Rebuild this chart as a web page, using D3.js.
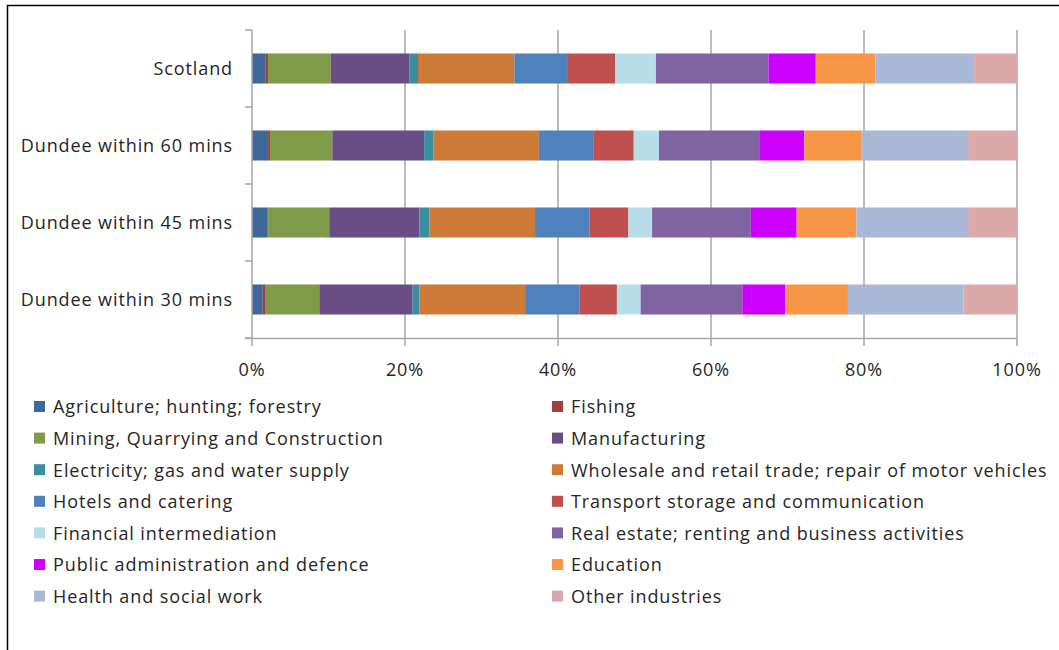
<!DOCTYPE html>
<html><head><meta charset="utf-8">
<script src="https://cdn.jsdelivr.net/npm/d3@7"></script>
<style>body{margin:0;background:#fff}svg{display:block}text{font-family:"Open Sans",sans-serif;fill:#262626;letter-spacing:0.9px}</style>
</head><body>
<svg id="c" width="1059" height="650"></svg>
<script>
const categories = ["Scotland","Dundee within 60 mins","Dundee within 45 mins","Dundee within 30 mins"];
const series = ["Agriculture; hunting; forestry","Fishing","Mining, Quarrying and Construction","Manufacturing","Electricity; gas and water supply","Wholesale and retail trade; repair of motor vehicles","Hotels and catering","Transport storage and communication","Financial intermediation","Real estate; renting and business activities","Public administration and defence","Education","Health and social work","Other industries"];
const colors = ["#3E679A","#A0413D","#7F9A48","#694D85","#3A8EA2","#CD7A37","#4F81BD","#C0504D","#B7DEE8","#8064A2","#CC00FF","#F79646","#A9B8D6","#DBA9A9"];
// values per category, in series order (percent)
const scotland  = [1.8,0.3,8.2,10.3,1.1,12.6,7.0,6.2,5.3,14.7,6.2,7.8,12.9,5.6];
const dundee60  = [2.1,0.25,8.15,12.0,1.2,13.8,7.1,5.3,3.3,13.2,5.8,7.5,13.9,6.4];
const dundee45  = [2.0,0.1,8.0,11.8,1.3,13.8,7.1,5.1,3.1,12.9,6.0,7.8,14.6,6.4];
const dundee30  = [1.4,0.3,7.1,12.2,0.9,13.8,7.1,4.9,3.1,13.3,5.6,8.2,15.1,7.0];
const xTicks = [0,20,40,60,80,100];
const xTickLabels = ["0%","20%","40%","60%","80%","100%"];

const valuesByCat = [scotland,dundee60,dundee45,dundee30];
const rows = categories.map((c,i)=>{const o={cat:c}; series.forEach((s,j)=>o[s]=valuesByCat[i][j]); return o;});

const svg = d3.select("#c");
svg.append("rect").attr("x",7.5).attr("y",5.5).attr("width",1100).attr("height",700).attr("fill","#fff").attr("stroke","#000").attr("stroke-width",1.5);

const x = d3.scaleLinear().domain([0,100]).range([252,1017]);
const p = 0.61;
const y = d3.scaleBand().domain(categories).range([30,338]).paddingInner(p).paddingOuter(p/2);

// gridlines
svg.append("g").selectAll("line").data(xTicks.slice(1)).join("line")
  .attr("x1",d=>x(d)).attr("x2",d=>x(d)).attr("y1",30).attr("y2",338)
  .attr("stroke","#A6A6A6").attr("stroke-width",1.5);

const stack = d3.stack().keys(series)(rows);
svg.append("g").selectAll("g").data(stack).join("g")
  .attr("fill",(d,i)=>colors[i])
  .selectAll("rect").data(d=>d).join("rect")
  .attr("x",d=>x(d[0])).attr("width",d=>x(d[1])-x(d[0]))
  .attr("y",d=>y(d.data.cat)).attr("height",y.bandwidth());

// y axis
const yAxis = svg.append("g");
yAxis.append("line").attr("x1",252).attr("x2",252).attr("y1",30).attr("y2",338).attr("stroke","#A6A6A6").attr("stroke-width",1.5);
const bounds = categories.map(c=>y(c)-y.step()*p/2).concat([y(categories[categories.length-1])+y.bandwidth()+y.step()*p/2]);
yAxis.selectAll("line.t").data(bounds).join("line").attr("class","t")
  .attr("x1",245).attr("x2",252).attr("y1",d=>d).attr("y2",d=>d).attr("stroke","#A6A6A6").attr("stroke-width",1.5);
yAxis.selectAll("text").data(categories).join("text")
  .attr("x",233).attr("y",c=>y(c)+y.bandwidth()/2).attr("dy","0.35em")
  .attr("text-anchor","end").attr("font-size",18).text(d=>d);

// x axis
const xAxis = svg.append("g");
xAxis.append("line").attr("x1",245).attr("x2",1017).attr("y1",338.5).attr("y2",338.5).attr("stroke","#A6A6A6").attr("stroke-width",1.5);
xAxis.selectAll("line.t").data(xTicks).join("line").attr("class","t")
  .attr("x1",d=>x(d)).attr("x2",d=>x(d)).attr("y1",338).attr("y2",346).attr("stroke","#A6A6A6").attr("stroke-width",1.5);
xAxis.selectAll("text").data(xTicks).join("text")
  .attr("x",d=>x(d)).attr("y",370).attr("dy","0.35em").attr("text-anchor","middle").attr("font-size",18)
  .text((d,i)=>xTickLabels[i]);

// legend
const leg = svg.append("g");
const items = leg.selectAll("g").data(series).join("g")
  .attr("transform",(d,i)=>`translate(${i%2===0?34:552},${407+Math.floor(i/2)*31.6})`);
items.append("rect").attr("x",0).attr("y",-6).attr("width",11).attr("height",11).attr("fill",(d,i)=>colors[i]);
items.append("text").attr("x",19).attr("y",0).attr("dy","0.35em").attr("font-size",18).text(d=>d);
</script>
</body></html>
